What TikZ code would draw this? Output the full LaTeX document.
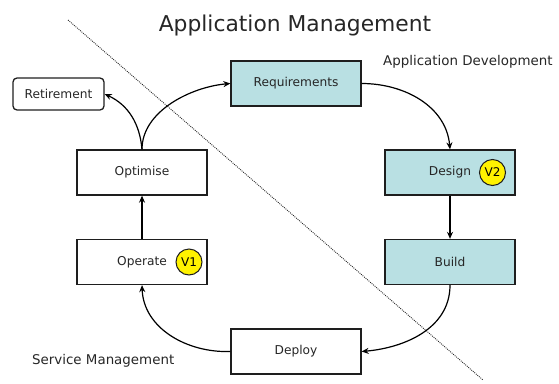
\documentclass[tikz,border=0pt]{standalone}
\usepackage{fontspec}
\setmainfont{DejaVu Sans}
\usetikzlibrary{arrows.meta}
\definecolor{devfill}{RGB}{185,224,227}
\definecolor{edge}{RGB}{30,30,30}
\tikzset{
  stagebox/.style={draw=edge, line width=1.3pt, minimum width=130pt, minimum height=45pt,
    inner sep=0pt, font=\fontsize{12.2}{14}\selectfont, text=black!85},
  devbox/.style={stagebox, fill=devfill},
  opsbox/.style={stagebox, fill=white},
  badge/.style={circle, draw=edge, line width=1pt, fill=yellow, minimum size=26pt,
    inner sep=0pt, font=\fontsize{12}{14}\selectfont},
  flow/.style={line width=1.2pt, -{Stealth[length=7pt,width=6pt]}},
  label/.style={font=\fontsize{13.4}{16}\selectfont, text=black!85, inner sep=0pt}
}
\begin{document}
\begin{tikzpicture}[x=1pt,y=-1pt]
\useasboundingbox (0,0) rectangle (559,383);

% boundary between development and service management
\draw[line width=0.9pt, black!85, dash pattern=on 0.9pt off 1.1pt] (68,20) -- (483,380);

% title and area labels
\node[font=\fontsize{21.8}{26}\selectfont, text=black!85, anchor=base, inner sep=0pt] (title) at (295,31) {Application Management};
\node[label, anchor=base west] (devlabel) at (383,65) {Application Development};
\node[label, anchor=base west] (smlabel) at (32,364) {Service Management};

% lifecycle stages
\node[devbox] (req) at (296,83.5) {Requirements};
\node[devbox] (design) at (450,172.5) {Design};
\node[devbox] (build) at (450,262) {Build};
\node[opsbox] (deploy) at (296,351.5) {Deploy};
\node[opsbox] (operate) at (142,262) {Operate};
\node[opsbox] (optimise) at (142,172.5) {Optimise};
\node[draw=edge, line width=1.3pt, rounded corners=4pt, minimum width=91pt, minimum height=32pt,
  inner sep=0pt, font=\fontsize{12.2}{14}\selectfont, text=black!85] (retire) at (58.5,94) {Retirement};

% version markers
\node[badge] (v1) at (189,262) {V1};
\node[badge] (v2) at (492.5,172.5) {V2};

% connectors
\draw[flow] (optimise.north) to[out=90, in=185, looseness=0.9] (req.west);
\draw[flow] (optimise.north) to[out=95, in=-25, looseness=1] (retire.east);
\draw[flow] (req.east) to[out=0, in=95, looseness=1] (design.north);
\draw[flow] (design.south) -- (build.north);
\draw[flow] (build.south) to[out=-90, in=5, looseness=1] (deploy.east);
\draw[flow] (deploy.west) to[out=182, in=-88, looseness=1] (operate.south);
\draw[flow] (operate.north) -- (optimise.south);
\end{tikzpicture}
\end{document}
